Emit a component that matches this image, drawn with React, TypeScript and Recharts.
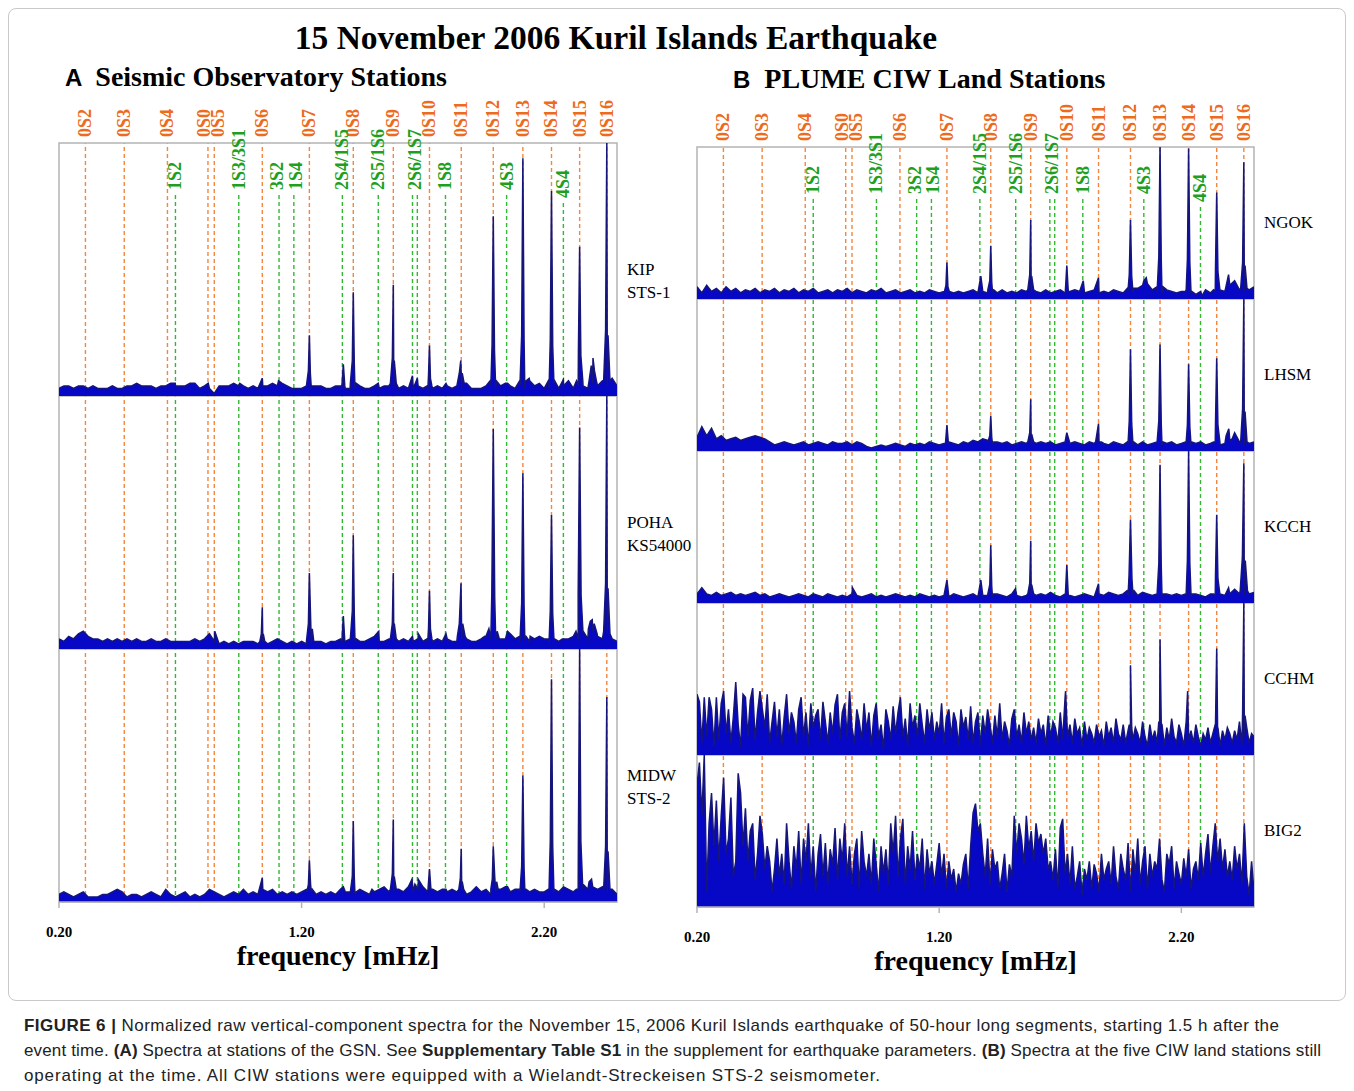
import { AreaChart, Area, XAxis, YAxis, ReferenceLine, ReferenceArea } from 'recharts'

const SERIF = '"Liberation Serif", "Times New Roman", serif'
const SANS = '"Liberation Sans", Arial, sans-serif'

const ORANGE_LINE = '#f4863f'
const ORANGE_TEXT = '#ee6a1c'
const GREEN_LINE = '#33b833'
const GREEN_TEXT = '#1f9f1f'
const BLUE = '#0707c6'
const BLUE_EDGE = '#15157a'
const FRAME = '#b4b4b4'

const FREQ_TICKS = [0.2, 1.2, 2.2]

// fundamental spheroidal modes (orange)
const fundamentalNames = ['0S2', '0S3', '0S4', '0S0', '0S5', '0S6', '0S7', '0S8', '0S9', '0S10', '0S11', '0S12', '0S13', '0S14', '0S15', '0S16']
const fundamentalFreqs = [0.309, 0.469, 0.647, 0.814, 0.84, 1.038, 1.232, 1.413, 1.578, 1.727, 1.858, 1.99, 2.112, 2.23, 2.346, 2.458]

// overtones (green) - 2S6/1S7 is drawn as two close lines
const overtoneNames = ['1S2', '1S3/3S1', '3S2', '1S4', '2S4/1S5', '2S5/1S6', '2S6/1S7', '1S8', '4S3', '4S4']
const overtoneLines = [[0.68], [0.941], [1.107], [1.168], [1.368], [1.516], [1.657, 1.677], [1.793], [2.045], [2.279]]

// background level, one value every 0.02 mHz from 0.20 to 2.50
const kipFloor = [
  3, 4, 4, 3, 4, 4, 3, 4, 3, 3,
  3, 4, 3, 3, 4, 4, 5, 4, 4, 4,
  3, 4, 4, 5, 4, 4, 4, 5, 5, 3,
  4, 3, 1, 4, 4, 4, 5, 4, 4, 3,
  4, 3, 4, 4, 5, 4, 5, 4, 3, 3,
  3, 4, 3, 4, 4, 3, 3, 4, 4, 3,
  3, 3, 4, 3, 3, 4, 3, 4, 4, 3,
  3, 4, 3, 3, 4, 3, 2, 3, 4, 3,
  4, 3, 4, 3, 5, 3, 3, 3, 4, 4,
  3, 4, 5, 4, 3, 4, 3, 6, 4, 5,
  3, 3, 5, 3, 4, 6, 3, 4, 4, 3,
  5, 4, 6, 4, 7, 4,
]
const kipPeaks: [number, number][] = [
  [0.679, 5], [0.815, 5], [0.945, 5], [1.038, 7], [1.105, 6],
  [1.22, 4], [1.228, 10], [1.232, 24], [1.236, 9], [1.244, 4],
  [1.366, 4], [1.372, 12.5], [1.378, 4],
  [1.401, 5], [1.409, 14], [1.413, 41], [1.417, 13], [1.425, 5],
  [1.516, 5],
  [1.566, 5], [1.574, 15], [1.578, 44], [1.582, 14], [1.59, 5],
  [1.657, 8], [1.677, 7],
  [1.717, 4], [1.723, 8], [1.727, 20], [1.731, 7], [1.737, 4],
  [1.795, 5],
  [1.842, 5], [1.85, 9], [1.856, 14], [1.862, 9], [1.87, 5],
  [1.977, 6], [1.985, 20], [1.99, 71], [1.995, 18], [2.003, 6],
  [2.049, 5],
  [2.099, 6], [2.107, 24], [2.112, 94], [2.117, 22], [2.125, 6],
  [2.138, 7],
  [2.217, 6], [2.225, 22], [2.23, 81], [2.235, 20], [2.243, 6],
  [2.279, 6.5],
  [2.333, 6], [2.341, 18], [2.346, 59], [2.351, 16], [2.359, 6],
  [2.385, 6], [2.394, 12], [2.401, 15], [2.407, 10], [2.415, 6],
  [2.445, 6], [2.453, 26], [2.458, 100], [2.463, 24], [2.471, 6],
]

const pohaFloor = [
  4, 3, 5, 4, 6, 7, 5, 4, 4, 3,
  4, 3, 4, 3, 4, 3, 4, 3, 3, 4,
  3, 3, 4, 3, 3, 3, 3, 3, 4, 3,
  4, 6, 3, 2, 3, 2, 3, 2, 3, 3,
  3, 2, 3, 2, 3, 4, 3, 2, 3, 2,
  3, 2, 2, 3, 3, 2, 3, 3, 4, 3,
  4, 3, 3, 3, 4, 5, 3, 3, 4, 3,
  3, 4, 3, 3, 4, 3, 3, 3, 4, 3,
  4, 3, 3, 4, 4, 3, 3, 4, 5, 4,
  4, 4, 4, 6, 4, 3, 4, 3, 4, 5,
  4, 3, 4, 3, 4, 4, 5, 4, 6, 4,
  7, 5, 4, 6, 4, 3,
]
const pohaPeaks: [number, number][] = [
  [0.842, 7],
  [1.028, 3], [1.034, 6], [1.038, 16.5], [1.042, 6], [1.048, 3],
  [1.22, 3], [1.228, 10], [1.232, 30], [1.238, 9], [1.244, 8], [1.25, 3],
  [1.366, 3], [1.372, 13], [1.378, 3],
  [1.401, 4], [1.409, 15], [1.413, 45], [1.417, 14], [1.425, 4],
  [1.518, 7],
  [1.566, 4], [1.574, 10], [1.578, 30], [1.582, 10], [1.59, 4],
  [1.657, 5], [1.681, 6],
  [1.717, 4], [1.723, 8], [1.727, 23], [1.731, 8], [1.737, 4],
  [1.795, 6],
  [1.842, 5], [1.85, 10], [1.857, 26], [1.864, 10], [1.874, 5],
  [1.955, 5], [1.972, 8], [1.984, 22], [1.99, 87], [1.996, 20], [2.006, 7], [2.015, 4],
  [2.049, 7],
  [2.099, 5], [2.107, 18], [2.112, 69.5], [2.117, 17], [2.125, 5],
  [2.142, 5],
  [2.217, 4], [2.225, 15], [2.23, 53], [2.235, 14], [2.243, 4],
  [2.275, 4],
  [2.331, 7], [2.34, 22], [2.346, 87.5], [2.352, 21], [2.361, 7],
  [2.382, 8], [2.39, 11], [2.398, 11.6], [2.406, 10], [2.418, 6],
  [2.445, 7], [2.453, 26], [2.458, 100], [2.463, 24], [2.471, 6],
]

const midwFloor = [
  3, 4, 3, 2, 3, 4, 2, 2, 2, 3,
  3, 4, 5, 4, 2, 3, 3, 2, 3, 4,
  3, 2, 5, 3, 2, 3, 4, 2, 3, 2,
  3, 5, 4, 3, 2, 3, 4, 3, 5, 3,
  4, 3, 5, 4, 5, 3, 4, 3, 4, 3,
  4, 5, 4, 3, 4, 3, 4, 3, 5, 4,
  4, 3, 5, 4, 3, 4, 5, 6, 4, 4,
  5, 4, 6, 4, 5, 6, 4, 5, 4, 5,
  4, 5, 4, 5, 3, 4, 6, 4, 5, 3,
  4, 5, 6, 4, 5, 4, 5, 4, 5, 4,
  4, 5, 4, 4, 6, 5, 4, 5, 7, 5,
  6, 5, 6, 4, 5, 3,
]
const midwPeaks: [number, number][] = [
  [1.038, 9.5],
  [1.222, 4], [1.228, 7], [1.232, 16.5], [1.237, 7], [1.244, 5],
  [1.372, 6],
  [1.401, 4], [1.409, 10], [1.413, 32], [1.417, 10], [1.425, 4],
  [1.49, 5],
  [1.566, 5], [1.574, 11], [1.578, 32.6], [1.582, 10], [1.59, 5],
  [1.655, 9], [1.667, 7], [1.681, 9],
  [1.721, 5], [1.727, 13], [1.733, 5],
  [1.795, 5],
  [1.848, 5], [1.854, 9], [1.858, 21], [1.862, 8], [1.868, 5],
  [1.98, 5], [1.986, 9], [1.99, 22], [1.996, 10], [2.004, 8], [2.01, 5],
  [2.049, 6],
  [2.099, 5], [2.107, 14], [2.112, 50], [2.117, 13], [2.125, 5],
  [2.217, 5], [2.225, 24], [2.23, 88], [2.235, 22], [2.243, 5],
  [2.333, 5], [2.341, 26], [2.346, 100], [2.351, 24], [2.359, 5],
  [2.385, 8], [2.395, 9],
  [2.445, 5], [2.453, 22], [2.458, 81], [2.463, 20], [2.471, 5],
]

const ngokFloor = [
  8, 4, 9, 5, 7, 4, 8, 5, 7, 4,
  6, 5, 7, 4, 6, 5, 7, 4, 6, 5,
  7, 4, 6, 5, 7, 4, 5, 6, 4, 6,
  5, 7, 4, 6, 5, 4, 6, 5, 7, 4,
  5, 6, 4, 5, 6, 4, 5, 4, 6, 5,
  4, 5, 6, 4, 5, 4, 5, 6, 4, 5,
  4, 5, 4, 6, 4, 5, 4, 6, 5, 4,
  5, 4, 6, 4, 5, 6, 4, 5, 6, 5,
  4, 5, 6, 4, 5, 4, 6, 5, 4, 6,
  5, 7, 9, 10, 6, 5, 4, 6, 5, 4,
  5, 6, 4, 3, 5, 6, 4, 5, 6, 5,
  9, 12, 6, 5, 6, 8,
]
const ngokPeaks: [number, number][] = [
  [1.222, 5], [1.228, 9], [1.232, 24], [1.236, 8], [1.242, 5],
  [1.372, 15],
  [1.401, 6], [1.409, 12], [1.413, 35], [1.417, 11], [1.425, 6],
  [1.566, 6], [1.574, 16], [1.578, 52], [1.582, 15], [1.59, 6],
  [1.721, 5], [1.727, 22], [1.733, 5],
  [1.795, 12], [1.858, 14],
  [1.977, 7], [1.985, 16], [1.99, 52], [1.995, 15], [2.003, 7],
  [2.045, 12], [2.055, 14],
  [2.099, 8], [2.107, 28], [2.112, 100], [2.117, 26], [2.125, 8],
  [2.217, 5], [2.225, 26], [2.23, 99], [2.235, 24], [2.243, 5],
  [2.285, 2],
  [2.333, 6], [2.341, 20], [2.346, 70], [2.351, 18], [2.359, 6],
  [2.395, 16],
  [2.445, 7], [2.453, 24], [2.458, 90], [2.463, 22], [2.471, 7],
]

const lhsmFloor = [
  9, 16, 10, 15, 8, 10, 7, 8, 9, 7,
  8, 9, 10, 9, 8, 6, 4, 5, 6, 5,
  4, 5, 6, 4, 5, 6, 5, 4, 6, 5,
  5, 6, 4, 6, 5, 3, 2, 3, 4, 3,
  4, 5, 4, 3, 5, 4, 5, 4, 6, 5,
  4, 5, 6, 5, 4, 6, 5, 7, 6, 8,
  7, 5, 6, 5, 6, 4, 5, 6, 5, 4,
  5, 6, 5, 6, 4, 5, 6, 5, 6, 5,
  4, 6, 5, 6, 5, 4, 6, 5, 4, 5,
  5, 4, 6, 4, 5, 6, 4, 5, 6, 4,
  5, 6, 4, 5, 6, 4, 5, 6, 4, 5,
  7, 12, 6, 4, 5, 6,
]
const lhsmPeaks: [number, number][] = [
  [1.226, 5], [1.232, 17], [1.238, 5],
  [1.401, 6], [1.409, 10], [1.413, 23], [1.417, 9], [1.425, 6],
  [1.566, 6], [1.574, 12], [1.578, 34], [1.582, 11], [1.59, 6],
  [1.727, 12],
  [1.846, 6], [1.858, 18], [1.87, 6],
  [1.977, 6], [1.985, 20], [1.99, 67], [1.995, 18], [2.003, 6],
  [2.099, 6], [2.107, 20], [2.112, 70], [2.117, 18], [2.125, 6],
  [2.217, 6], [2.225, 17], [2.23, 57], [2.235, 16], [2.243, 6],
  [2.333, 6], [2.341, 18], [2.346, 61], [2.351, 17], [2.359, 6],
  [2.385, 10], [2.396, 14.6], [2.41, 8],
  [2.445, 6], [2.453, 28], [2.458, 100], [2.463, 26], [2.471, 6],
]

const kcchFloor = [
  6, 10, 6, 5, 7, 5, 6, 7, 5, 6,
  5, 6, 7, 5, 6, 4, 5, 6, 5, 4,
  5, 6, 5, 4, 6, 5, 4, 6, 5, 4,
  5, 4, 6, 5, 4, 5, 6, 4, 5, 4,
  5, 6, 5, 4, 5, 4, 6, 5, 4, 5,
  4, 5, 4, 6, 5, 4, 5, 6, 4, 5,
  5, 4, 6, 5, 4, 6, 5, 4, 5, 6,
  5, 6, 5, 7, 5, 4, 6, 5, 4, 5,
  6, 5, 4, 6, 5, 7, 6, 5, 6, 5,
  6, 5, 7, 6, 5, 6, 5, 6, 5, 6,
  5, 6, 5, 6, 5, 4, 6, 5, 6, 5,
  6, 9, 6, 5, 6, 7,
]
const kcchPeaks: [number, number][] = [
  [0.842, 10], [1.232, 15], [1.372, 15],
  [1.401, 6], [1.409, 12], [1.413, 38], [1.417, 11], [1.425, 6],
  [1.515, 9.4],
  [1.566, 6], [1.574, 13], [1.578, 41], [1.582, 12], [1.59, 6],
  [1.721, 5], [1.727, 25], [1.733, 5],
  [1.858, 12.7],
  [1.975, 8], [1.984, 18], [1.99, 55], [1.996, 16], [2.005, 8],
  [2.099, 6], [2.107, 26], [2.112, 91], [2.117, 24], [2.125, 6],
  [2.217, 6], [2.225, 28], [2.23, 100], [2.235, 26], [2.243, 6],
  [2.333, 6], [2.341, 18], [2.346, 58], [2.351, 16], [2.359, 6],
  [2.395, 10],
  [2.443, 8], [2.452, 30], [2.458, 92], [2.464, 28], [2.473, 8],
]

// the two noisy stations, one value every 0.01 mHz from 0.20 to 2.50
const cchmFloor = [
  40, 35, 8, 38, 12, 38, 30, 6, 38, 10,
  34, 42, 14, 30, 8, 25, 48, 20, 5, 40,
  38, 12, 36, 44, 10, 28, 42, 30, 18, 40,
  8, 22, 35, 12, 30, 6, 25, 40, 14, 28,
  22, 8, 30, 38, 12, 28, 6, 34, 18, 26,
  30, 10, 35, 22, 8, 28, 14, 33, 40, 10,
  28, 34, 12, 42, 18, 8, 30, 22, 10, 34,
  16, 28, 6, 26, 34, 12, 20, 4, 30, 22,
  10, 32, 14, 28, 38, 12, 24, 6, 34, 18,
  26, 12, 34, 20, 8, 30, 16, 28, 10, 22,
  14, 34, 8, 25, 30, 12, 28, 22, 6, 30,
  18, 25, 10, 32, 8, 22, 28, 6, 26, 14,
  30, 20, 8, 26, 12, 34, 10, 22, 16, 6,
  24, 30, 12, 20, 8, 28, 14, 22, 10, 18,
  8, 24, 14, 20, 6, 26, 12, 22, 18, 8,
  28, 10, 38, 12, 20, 8, 24, 14, 18, 6,
  22, 10, 18, 14, 8, 20, 12, 16, 6, 22,
  12, 18, 8, 24, 14, 10, 20, 8, 16, 12,
  10, 18, 14, 8, 22, 12, 6, 20, 10, 16,
  8, 14, 20, 6, 18, 10, 24, 12, 8, 20,
  14, 6, 22, 10, 16, 8, 20, 12, 6, 14,
  10, 18, 8, 14, 20, 12, 6, 16, 10, 18,
  14, 8, 16, 10, 22, 6, 12, 18, 8, 14,
  12,
]
const cchmPeaks: [number, number][] = [
  [1.722, 42],
  [1.985, 20], [1.99, 59], [1.995, 18],
  [2.107, 22], [2.112, 76], [2.117, 20],
  [2.226, 42],
  [2.341, 20], [2.346, 70], [2.351, 18],
  [2.453, 28], [2.458, 100], [2.463, 26],
]

const big2Floor = [
  80, 95, 60, 100, 10, 55, 75, 40, 70, 30,
  60, 85, 35, 45, 72, 20, 30, 88, 75, 40,
  65, 30, 50, 55, 18, 35, 60, 48, 25, 40,
  30, 10, 25, 45, 20, 35, 15, 55, 30, 12,
  40, 25, 50, 15, 45, 30, 55, 20, 40, 10,
  35, 48, 20, 42, 15, 38, 28, 52, 18, 45,
  30, 55, 20, 40, 15, 35, 45, 12, 50, 30,
  20, 35, 15, 45, 28, 10, 40, 22, 38, 15,
  55, 35, 60, 20, 45, 58, 15, 40, 25, 50,
  18, 35, 25, 45, 12, 38, 22, 30, 15, 28,
  42, 20, 35, 12, 30, 18, 25, 10, 22, 15,
  28, 35, 12, 40, 62, 68, 50, 55, 35, 20,
  45, 15, 38, 25, 30, 12, 22, 35, 10, 28,
  20, 60, 35, 55, 45, 28, 60, 38, 50, 30,
  55, 42, 48, 35, 45, 25, 30, 18, 38, 12,
  52, 58, 22, 35, 15, 40, 12, 20, 30, 8,
  25, 18, 30, 12, 28, 22, 10, 35, 18, 25,
  30, 15, 40, 20, 12, 35, 25, 18, 42, 10,
  38, 22, 45, 15, 30, 40, 12, 35, 20, 30,
  25, 45, 18, 10, 35, 28, 40, 12, 30, 22,
  15, 32, 20, 38, 12, 25, 30, 18, 42, 20,
  35, 48, 22, 40, 55, 30, 45, 25, 38, 20,
  30, 18, 40, 25, 35, 15, 55, 20, 8, 30,
  10,
]
const big2Peaks: [number, number][] = []

const stationsA = [['KIP', 'STS-1'], ['POHA', 'KS54000'], ['MIDW', 'STS-2']]
const stationsB = ['NGOK', 'LHSM', 'KCCH', 'CCHM', 'BIG2']

function buildSpectrum(floor: number[], step: number, peaks: [number, number][]) {
  const pts = floor.map((a, i) => ({ f: +(0.2 + i * step).toFixed(3), a }))
  peaks.forEach(([f, a]) => pts.push({ f, a }))
  return pts.sort((p, q) => p.f - q.f)
}

const spectraA = [
  buildSpectrum(kipFloor, 0.02, kipPeaks),
  buildSpectrum(pohaFloor, 0.02, pohaPeaks),
  buildSpectrum(midwFloor, 0.02, midwPeaks),
]
const spectraB = [
  buildSpectrum(ngokFloor, 0.02, ngokPeaks),
  buildSpectrum(lhsmFloor, 0.02, lhsmPeaks),
  buildSpectrum(kcchFloor, 0.02, kcchPeaks),
  buildSpectrum(cchmFloor, 0.01, cchmPeaks),
  buildSpectrum(big2Floor, 0.01, big2Peaks),
]

const LABEL_SPACE = 65
const AXIS_H = 40
const SIDE_L = 30
const SIDE_R = 10
const GREEN_DROP = 52 // px below the frame top where green lines start
const LABEL_SHIFT: Record<string, number> = { '0S0': -4, '0S5': 4, '3S2': -2, '1S4': 2 }
const LABEL_DROP: Record<string, number> = { '4S4': 8 }

function ModeLabel(props: any) {
  const { viewBox, modeName, tint, lift = 6, shift = 0 } = props
  if (!viewBox) return null
  const x = viewBox.x + shift + 6
  const y = viewBox.y - lift
  return (
    <text x={x} y={y} transform={`rotate(-90 ${x} ${y})`} fill={tint}
      fontFamily={SERIF} fontWeight={700} fontSize={18}>
      {modeName}
    </text>
  )
}

interface RowProps {
  data: { f: number; a: number }[]
  width: number
  rowH: number
  isTop: boolean
  isBottom: boolean
}

function SpectrumRow({ data, width, rowH, isTop, isBottom }: RowProps) {
  const marginTop = isTop ? LABEL_SPACE : 0
  const height = rowH + marginTop + (isBottom ? AXIS_H : 0)
  const greenTop = 100 * (1 - GREEN_DROP / rowH)
  const dash = '4 3'

  return (
    <AreaChart width={width + SIDE_L + SIDE_R} height={height} data={data}
      margin={{ top: marginTop, right: SIDE_R, bottom: 0, left: SIDE_L }}>
      <XAxis dataKey="f" type="number" domain={[0.2, 2.5]} allowDataOverflow
        ticks={FREQ_TICKS} interval={0} tickFormatter={(v: number) => v.toFixed(2)}
        hide={!isBottom} height={AXIS_H} tickSize={6} tickMargin={18}
        axisLine={{ stroke: FRAME, strokeWidth: 1.5 }} tickLine={{ stroke: FRAME, strokeWidth: 1.5 }}
        tick={{ fill: '#000', fontFamily: SERIF, fontWeight: 700, fontSize: 15 }} />
      <YAxis hide domain={[0, 100]} allowDataOverflow />
      <ReferenceArea x1={0.2} x2={2.5} y1={0} y2={100} fill="none" fillOpacity={0}
        stroke={FRAME} strokeWidth={1.5} />
      {fundamentalFreqs.map((f, i) => (
        <ReferenceLine key={'o' + i} x={f} stroke={ORANGE_LINE} strokeWidth={1.4} strokeDasharray={dash}
          zIndex={50}
          label={isTop ? <ModeLabel modeName={fundamentalNames[i]} tint={ORANGE_TEXT} lift={6}
            shift={LABEL_SHIFT[fundamentalNames[i]] ?? 0} /> : undefined} />
      ))}
      {overtoneLines.map((lines, i) => {
        const name = overtoneNames[i]
        const drop = LABEL_DROP[name] ?? 0
        const top = greenTop - (100 * drop) / rowH
        const mid = lines.reduce((s, v) => s + v, 0) / lines.length
        return [
          ...lines.map((f, j) =>
            isTop ? (
              <ReferenceLine key={`g${i}-${j}`} segment={[{ x: f, y: top }, { x: f, y: 0 }]}
                stroke={GREEN_LINE} strokeWidth={1.4} strokeDasharray={dash} zIndex={50} />
            ) : (
              <ReferenceLine key={`g${i}-${j}`} x={f} stroke={GREEN_LINE} strokeWidth={1.4}
                strokeDasharray={dash} zIndex={50} />
            )
          ),
          isTop ? (
            <ReferenceLine key={`gl${i}`} segment={[{ x: mid, y: top }, { x: mid, y: top - 0.5 }]}
              stroke="none" strokeOpacity={0}
              label={<ModeLabel modeName={name} tint={GREEN_TEXT} lift={5}
                shift={LABEL_SHIFT[name] ?? 0} />} />
          ) : null,
        ]
      })}
      <Area type="linear" dataKey="a" stroke={BLUE_EDGE} strokeWidth={1.5} fill={BLUE}
        fillOpacity={1} dot={false} activeDot={false} isAnimationActive={false} />
    </AreaChart>
  )
}

// layout in px, relative to the figure box (page minus the 8px body margin)
const A_LEFT = 51
const A_WIDTH = 558
const A_TOP = 135
const A_ROW = 253
const B_LEFT = 689
const B_WIDTH = 557
const B_TOP = 139
const B_ROW = 152

export default function App() {
  const abs = (left: number, top: number): React.CSSProperties => ({ position: 'absolute', left, top })
  return (
    <div style={{ position: 'relative', width: 1338, height: 1083, background: '#fff', color: '#000' }}>
      <div style={{ ...abs(0, 0), width: 1336, height: 991, border: '1px solid #c9c9c9', borderRadius: 8 }} />

      <div style={{ ...abs(0, 11), width: 1216, textAlign: 'center', fontFamily: SERIF, fontWeight: 700, fontSize: 33.5, lineHeight: '38px', whiteSpace: 'nowrap' }}>
        15 November 2006 Kuril Islands Earthquake
      </div>
      <div style={{ ...abs(57, 53), whiteSpace: 'nowrap', lineHeight: '32px' }}>
        <span style={{ fontFamily: SANS, fontWeight: 700, fontSize: 24 }}>A</span>
        <span style={{ fontFamily: SERIF, fontWeight: 700, fontSize: 28, marginLeft: 13 }}>Seismic Observatory Stations</span>
      </div>
      <div style={{ ...abs(725, 55), whiteSpace: 'nowrap', lineHeight: '32px' }}>
        <span style={{ fontFamily: SANS, fontWeight: 700, fontSize: 24 }}>B</span>
        <span style={{ fontFamily: SERIF, fontWeight: 700, fontSize: 28, marginLeft: 14 }}>PLUME CIW Land Stations</span>
      </div>

      {spectraA.map((data, i) => (
        <div key={'a' + i} style={abs(A_LEFT - SIDE_L, i === 0 ? A_TOP - LABEL_SPACE : A_TOP + i * A_ROW)}>
          <SpectrumRow data={data} width={A_WIDTH} rowH={A_ROW} isTop={i === 0} isBottom={i === spectraA.length - 1} />
        </div>
      ))}
      {stationsA.map((lines, i) => (
        <div key={'sa' + i} style={{ ...abs(619, A_TOP + i * A_ROW + A_ROW / 2 - 12), fontFamily: SERIF, fontSize: 17, lineHeight: '23px', whiteSpace: 'nowrap' }}>
          {lines[0]}<br />{lines[1]}
        </div>
      ))}

      {spectraB.map((data, i) => (
        <div key={'b' + i} style={abs(B_LEFT - SIDE_L, i === 0 ? B_TOP - LABEL_SPACE : B_TOP + i * B_ROW)}>
          <SpectrumRow data={data} width={B_WIDTH} rowH={B_ROW} isTop={i === 0} isBottom={i === spectraB.length - 1} />
        </div>
      ))}
      {stationsB.map((name, i) => (
        <div key={'sb' + i} style={{ ...abs(1256, B_TOP + i * B_ROW + B_ROW / 2 - 12), fontFamily: SERIF, fontSize: 17, lineHeight: '23px' }}>
          {name}
        </div>
      ))}

      <div style={{ ...abs(A_LEFT, 934), width: A_WIDTH, textAlign: 'center', fontFamily: SERIF, fontWeight: 700, fontSize: 28, lineHeight: '28px', whiteSpace: 'nowrap' }}>
        frequency [mHz]
      </div>
      <div style={{ ...abs(B_LEFT, 939), width: B_WIDTH, textAlign: 'center', fontFamily: SERIF, fontWeight: 700, fontSize: 28, lineHeight: '28px', whiteSpace: 'nowrap' }}>
        frequency [mHz]
      </div>

      <svg width={1338} height={80} style={abs(0, 1005)}>
        <g fontFamily={SANS} fontSize={17} fill="#222">
          <text x={16} y={18} textLength={1255} lengthAdjust="spacing">
            <tspan fontWeight={700}>FIGURE 6 | </tspan>Normalized raw vertical-component spectra for the November 15, 2006 Kuril Islands earthquake of 50-hour long segments, starting 1.5 h after the
          </text>
          <text x={16} y={43} textLength={1297} lengthAdjust="spacing">
            event time. <tspan fontWeight={700}>(A)</tspan> Spectra at stations of the GSN. See <tspan fontWeight={700}>Supplementary Table S1</tspan> in the supplement for earthquake parameters. <tspan fontWeight={700}>(B)</tspan> Spectra at the five CIW land stations still
          </text>
          <text x={16} y={68} textLength={856} lengthAdjust="spacing">
            operating at the time. All CIW stations were equipped with a Wielandt-Streckeisen STS-2 seismometer.
          </text>
        </g>
      </svg>
    </div>
  )
}
